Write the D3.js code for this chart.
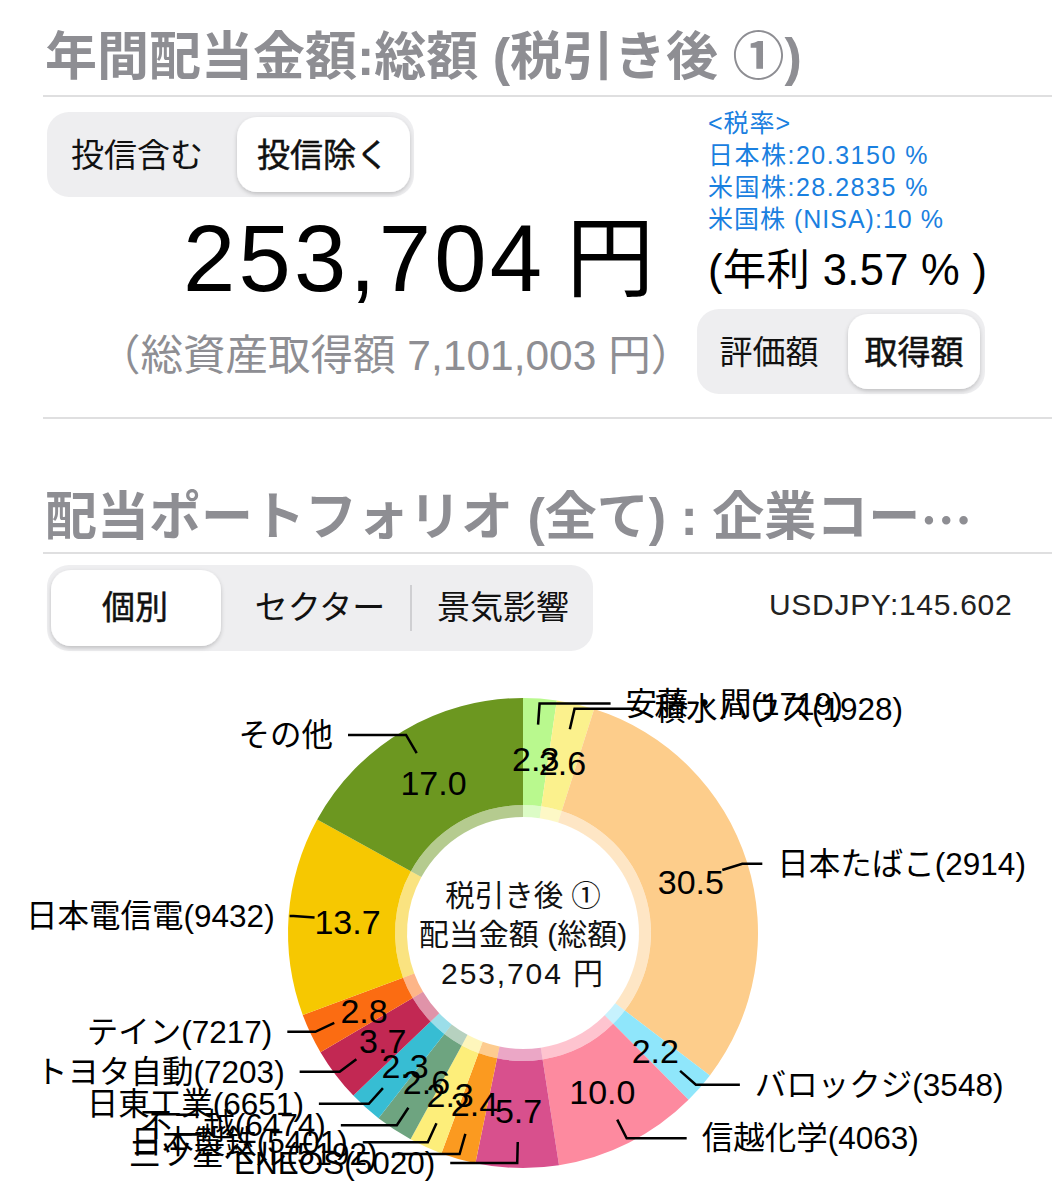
<!DOCTYPE html>
<html>
<head>
<meta charset="utf-8">
<script src="https://cdn.jsdelivr.net/npm/d3@7"></script>
<style>
  body { margin: 0; background: #fff; }
  text { font-family: "Liberation Sans", "Noto Sans CJK JP", sans-serif; }
</style>
</head>
<body>
<svg id="chart" width="1052" height="1200"></svg>
<script>
// chart data, clockwise from 12 o'clock
const names = ["安藤・間(1719)", "積水ハウス(1928)", "日本たばこ(2914)", "バロックジ(3548)", "信越化学(4063)", "ENEOS(5020)", "三ツ星ベル(5192)", "日本製鉄(5401)", "不二越(6474)", "日東工業(6651)", "トヨタ自動(7203)", "テイン(7217)", "日本電信電(9432)", "その他"];
const values = [2.3, 2.6, 30.5, 2.2, 10.0, 5.7, 2.4, 2.3, 2.6, 2.3, 3.7, 2.8, 13.7, 17.0];
const colors = ["#b9f98e", "#fbf18d", "#fdcd8b", "#8fe6fb", "#fd8a9f", "#d8508d", "#fb9a20", "#fdee7a", "#6ea480", "#37bdd3", "#c22853", "#fb6c12", "#f6c801", "#6c9720"];
// length of the flat part of each leader line
const leaderRun = [71, 65, 20, 44, 60, 67, 67, 65, 56, 50, 40, 28, 4, 58];

const centerLines = ["税引き後 ①", "配当金額 (総額)", "253,704 円"];
const rateLines = ["<税率>", "日本株:20.3150 %", "米国株:28.2835 %", "米国株 (NISA):10 %"];
const rateSpacing = [1, 1.5, 1.5, 1];

const svg = d3.select("#chart");

function label(x, y, str, size, fill, anchor, weight) {
  return svg.append("text")
    .attr("x", x).attr("y", y)
    .attr("dominant-baseline", "central")
    .attr("text-anchor", anchor || "start")
    .attr("font-size", size)
    .attr("font-weight", weight || 400)
    .attr("fill", fill || "#000")
    .text(str);
}

// selected segment text is a little heavier than regular
function selected(sel) {
  return sel.attr("stroke", "#111").attr("stroke-width", 0.5);
}

function rule(y) {
  svg.append("line").attr("x1", 43).attr("x2", 1052).attr("y1", y).attr("y2", y)
    .attr("stroke", "#d4d4d6").attr("stroke-width", 1.5);
}

// segmented control: grey track + white selected pill
function segment(x, y, w, h, sx, sw) {
  svg.append("rect").attr("x", x).attr("y", y).attr("width", w).attr("height", h)
    .attr("rx", 22).attr("fill", "#eeeef0");
  svg.append("rect").attr("x", sx).attr("y", y + 5).attr("width", sw).attr("height", h - 10)
    .attr("rx", 20).attr("fill", "#fff").attr("filter", "url(#pill)");
}

const shadow = svg.append("defs").append("filter").attr("id", "pill")
  .attr("x", "-20%").attr("y", "-20%").attr("width", "140%").attr("height", "140%");
shadow.append("feDropShadow").attr("dx", 0).attr("dy", 2).attr("stdDeviation", 2)
  .attr("flood-color", "#000").attr("flood-opacity", 0.2);

// header block
label(45, 57, "年間配当金額:総額 (税引き後 ①)", 52, "#8e8e93", "start", 700);
rule(96);
segment(47, 112, 367, 85, 237, 173);
label(137, 155, "投信含む", 33, "#111", "middle");
selected(label(323, 155, "投信除く", 33, "#111", "middle"));
const total = label(183, 258, "253,704", 94).attr("letter-spacing", 3.2);
total.append("tspan").attr("dx", 21).attr("font-size", 88).attr("letter-spacing", 0).text("円");
label(98, 355, "（総資産取得額 7,101,003 円）", 42.5, "#8e8e93");
rateLines.forEach((s, i) => label(708, 123 + i * 32, s, 25, "#1a80e0").attr("letter-spacing", rateSpacing[i]));
label(708, 270, "(年利 3.57 % )", 43.5).attr("letter-spacing", 0.3);
segment(697, 309, 288, 85, 848, 132);
label(769, 352, "評価額", 33, "#111", "middle");
selected(label(914, 352, "取得額", 33, "#111", "middle"));
rule(418);

// portfolio block
const title2 = label(45, 517, "配当ポートフォリオ (全て) : 企業コー", 52, "#8e8e93", "start", 700);
title2.append("tspan").attr("font-family", "Noto Sans CJK JP").text("…");
rule(553);
segment(47, 565, 546, 86, 51, 170);
selected(label(135, 607, "個別", 33, "#111", "middle"));
label(320, 607, "セクター", 33, "#111", "middle");
label(503, 607, "景気影響", 33, "#111", "middle");
svg.append("line").attr("x1", 411).attr("x2", 411).attr("y1", 585).attr("y2", 631)
  .attr("stroke", "#cfcfd2").attr("stroke-width", 2);
label(769, 604, "USDJPY:145.602", 30, "#222").attr("letter-spacing", 0.7);

// donut
const cx = 523, cy = 933, outer = 235, inner = 128, hole = 116;
const slices = d3.pie().sort(null).value(d => d)(values);
const arc = d3.arc().innerRadius(inner).outerRadius(outer);
const ringArc = d3.arc().innerRadius(hole).outerRadius(inner);
const g = svg.append("g").attr("transform", `translate(${cx},${cy})`);

g.selectAll("path.slice").data(slices).join("path")
  .attr("class", "slice")
  .attr("d", arc)
  .attr("fill", (d, i) => colors[i]);
g.selectAll("path.ring").data(slices).join("path")
  .attr("class", "ring")
  .attr("d", ringArc)
  .attr("fill", (d, i) => colors[i])
  .attr("opacity", 0.5);

// leader lines
const lineStart = d3.arc().innerRadius(209).outerRadius(209);
const lineElbow = d3.arc().innerRadius(230).outerRadius(230);
const valueArc = d3.arc().innerRadius(176).outerRadius(176);

slices.forEach((d, i) => {
  const a = lineStart.centroid(d), b = lineElbow.centroid(d);
  const side = b[0] >= 0 ? 1 : -1;
  const end = b[0] + side * leaderRun[i];
  g.append("path")
    .attr("d", d3.line()([a, b, [end, b[1]]]))
    .attr("fill", "none").attr("stroke", "#000").attr("stroke-width", 2.5);
  g.append("text")
    .attr("x", end + side * 15).attr("y", b[1])
    .attr("dominant-baseline", "central")
    .attr("text-anchor", side > 0 ? "start" : "end")
    .attr("font-size", 31.5)
    .text(names[i]);
});

g.selectAll("text.value").data(slices).join("text")
  .attr("class", "value")
  .attr("transform", d => `translate(${valueArc.centroid(d)})`)
  .attr("dy", 2)
  .attr("dominant-baseline", "central")
  .attr("text-anchor", "middle")
  .attr("font-size", 34)
  .text(d => d.value.toFixed(1));

label(cx, 895, centerLines[0], 29.5, "#111", "middle");
label(cx, 934, centerLines[1], 30, "#111", "middle");
label(cx, 973, centerLines[2], 30, "#111", "middle").attr("letter-spacing", 1.9);
</script>
</body>
</html>
